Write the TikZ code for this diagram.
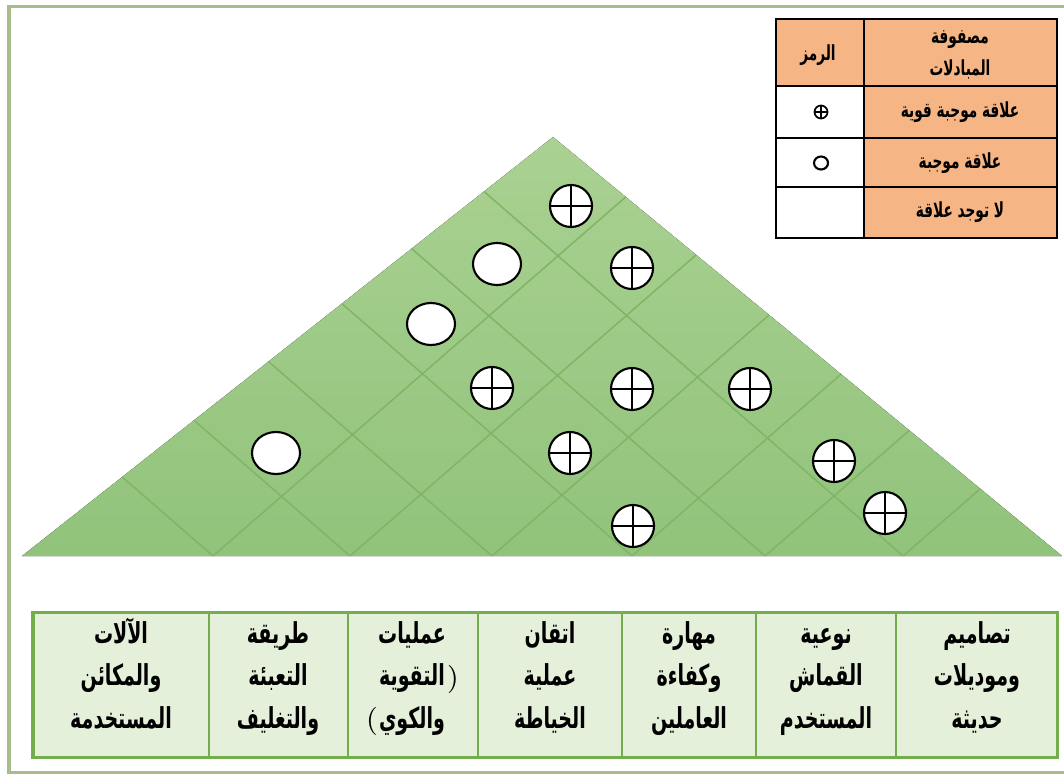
\documentclass[tikz,border=0pt]{standalone}
\usepackage{fontspec}
\newfontfamily\arabicfont[Script=Arabic,FakeStretch=0.66]{DejaVu Sans}
\TeXXeTstate=1
\usetikzlibrary{shapes.geometric}

\definecolor{roofTop}{HTML}{AAD192}
\definecolor{roofBottom}{HTML}{91C37B}
\definecolor{roofGrid}{HTML}{80B565}
\definecolor{rowFill}{HTML}{E4F0DA}
\definecolor{rowLine}{HTML}{74AD4C}
\definecolor{keyFill}{HTML}{F5B585}
\definecolor{frameGreen}{HTML}{A9BC8C}

\newcommand{\artext}[1]{\beginR #1\endR}

\tikzset{
  strongrel/.style={circle,draw=black,fill=white,line width=0.6pt,minimum size=0.42cm,inner sep=0pt,
    path picture={\draw[line width=0.45pt] (path picture bounding box.north) -- (path picture bounding box.south)
      (path picture bounding box.west) -- (path picture bounding box.east);}},
  posrel/.style={ellipse,draw=black,fill=white,line width=0.6pt,minimum width=0.48cm,minimum height=0.42cm,inner sep=0pt},
  keytext/.style={font=\arabicfont\bfseries\fontsize{5.9}{9}\selectfont,align=center,anchor=center,inner sep=0pt},
  coltext/.style={font=\arabicfont\bfseries\fontsize{8.2}{12}\selectfont,align=center,anchor=center,inner sep=0pt,
    text height=1cm,text depth=0.1cm},
  parentext/.style={font=\fontsize{8.2}{12}\selectfont,anchor=center,inner sep=0pt},
}

\begin{document}
\begin{tikzpicture}[x=0.01cm,y=-0.01cm]
\useasboundingbox (0,0) rectangle (1064,776);
% outer frame
\draw[frameGreen,line width=0.3mm] (1064,7) -- (9,7) -- (9,772) -- (1064,772);

% roof of the matrix
\coordinate (L) at (22,556);
\coordinate (A) at (553,137);
\coordinate (R) at (1062,556);
\fill[top color=roofTop,bottom color=roofBottom] (L) -- (A) -- (R) -- cycle;
\begin{scope}
\clip (L) -- (A) -- (R) -- cycle;
\draw[roofGrid,line width=0.15mm] (213,556) -- ++(600,-522) (213,556) -- ++(-600,-522);
\draw[roofGrid,line width=0.15mm] (350,556) -- ++(600,-522) (350,556) -- ++(-600,-522);
\draw[roofGrid,line width=0.15mm] (492,556) -- ++(600,-522) (492,556) -- ++(-600,-522);
\draw[roofGrid,line width=0.15mm] (632,556) -- ++(600,-522) (632,556) -- ++(-600,-522);
\draw[roofGrid,line width=0.15mm] (765,556) -- ++(600,-522) (765,556) -- ++(-600,-522);
\draw[roofGrid,line width=0.15mm] (903,556) -- ++(600,-522) (903,556) -- ++(-600,-522);
\end{scope}

% relations
\node[strongrel] (s17) at (571,206) {};
\node[posrel] (s16) at (497,264) {};
\node[strongrel] (s27) at (632,268) {};
\node[posrel] (s15) at (431,324) {};
\node[strongrel] (s25) at (492,388) {};
\node[strongrel] (s36) at (632,389) {};
\node[strongrel] (s47) at (750,389) {};
\node[posrel] (s13) at (276,453) {};
\node[strongrel] (s35) at (570,453) {};
\node[strongrel] (s57) at (834,461) {};
\node[strongrel] (s45) at (633,526) {};
\node[strongrel] (s67) at (885,513) {};

% key
\fill[keyFill] (776,19) rectangle (1057,86);
\fill[keyFill] (864,86) rectangle (1057,238);
\fill[white] (776,86) rectangle (864,238);
\draw[line width=0.2mm] (776,19) rectangle (1057,238);
\draw[line width=0.2mm] (864,19) -- (864,238);
\draw[line width=0.2mm] (776,86) -- (1057,86) (776,138) -- (1057,138) (776,187) -- (1057,187);
\node[keytext] (keyhead) at (960,55) {\artext{مصفوفة}\\\artext{المبادلات}};
\node[keytext] (keysym) at (818,55) {\artext{الرمز}};
\node[keytext] (keystrong) at (960,112) {\artext{علاقة موجبة قوية}};
\node[keytext] (keypos) at (960,163) {\artext{علاقة موجبة}};
\node[keytext] (keynone) at (960,212) {\artext{لا توجد علاقة}};
\node[strongrel,minimum size=0.13cm,line width=0.5pt] (keystrongsym) at (821,112) {};
\node[posrel,minimum width=0.14cm,minimum height=0.13cm] (keypossym) at (821,163) {};

% requirements row
\filldraw[fill=rowFill,draw=rowLine,line width=0.3mm] (33,612) rectangle (1057,757);
\draw[rowLine,line width=0.25mm] (209,612) -- (209,757) (348,612) -- (348,757) (478,612) -- (478,757);
\draw[rowLine,line width=0.25mm] (622,612) -- (622,757) (756,612) -- (756,757) (896,612) -- (896,757);
\node[coltext] (c1) at (121,683) {\artext{الآلات}\\\artext{والمكائن}\\\artext{المستخدمة}};
\node[coltext] (c2) at (278,683) {\artext{طريقة}\\\artext{التعبئة}\\\artext{والتغليف}};
\node[coltext] (c3) at (412,683) {\artext{عمليات}\\\artext{التقوية}\\\artext{والكوي}};
\node[parentext] (c3open) at (453,679) {$\mathbf{)}$};
\node[parentext] (c3close) at (372,721) {$\mathbf{(}$};
\node[coltext] (c4) at (550,683) {\artext{اتقان}\\\artext{عملية}\\\artext{الخياطة}};
\node[coltext] (c5) at (689,683) {\artext{مهارة}\\\artext{وكفاءة}\\\artext{العاملين}};
\node[coltext] (c6) at (826,683) {\artext{نوعية}\\\artext{القماش}\\\artext{المستخدم}};
\node[coltext] (c7) at (977,683) {\artext{تصاميم}\\\artext{وموديلات}\\\artext{حديثة}};

\end{tikzpicture}
\end{document}
